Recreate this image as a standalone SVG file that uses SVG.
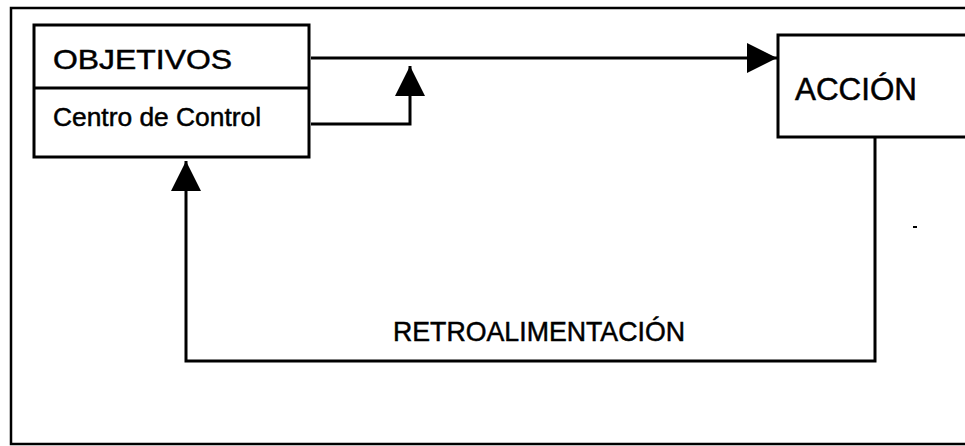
<svg xmlns="http://www.w3.org/2000/svg" width="965" height="446" viewBox="0 0 965 446">
<style>
.box{fill:#fff;stroke:#000;stroke-width:3}
.ln{fill:none;stroke:#000;stroke-width:3}
.t{font-family:"Liberation Sans",Arial,sans-serif;fill:#000;stroke:#000;stroke-width:0.5}
</style>
<defs>
<marker id="ah" markerUnits="userSpaceOnUse" markerWidth="30" markerHeight="30" viewBox="0 0 28 28" refX="28" refY="14" orient="auto">
<polygon points="0,0 28,14 0,28" fill="#000"/>
</marker>
</defs>
<rect width="965" height="446" fill="#fff"/>
<g id="frame">
<path d="M965,8 H11 V444 H965" fill="none" stroke="#000" stroke-width="2.5"/>
</g>
<g id="connectors">
<line class="ln" x1="311" y1="58" x2="777" y2="58" marker-end="url(#ah)"/>
<path class="ln" d="M311,124 H410 V66" marker-end="url(#ah)"/>
<path class="ln" d="M875,138 V361 H186 V161" marker-end="url(#ah)"/>
<text class="t" x="393" y="341" font-size="28" textLength="292" lengthAdjust="spacingAndGlyphs">RETROALIMENTACIÓN</text>
</g>
<g id="objetivos">
<rect class="box" x="34" y="25" width="275" height="132"/>
<line class="ln" x1="34" y1="88" x2="309" y2="88"/>
<text class="t" x="53" y="69" font-size="28" textLength="179" lengthAdjust="spacingAndGlyphs">OBJETIVOS</text>
<text class="t" x="53" y="126" font-size="26" textLength="208" lengthAdjust="spacingAndGlyphs">Centro de Control</text>
</g>
<g id="accion">
<rect class="box" x="778" y="35" width="200" height="102"/>
<text class="t" x="795" y="100" font-size="31" textLength="122" lengthAdjust="spacingAndGlyphs">ACCIÓN</text>
</g>
<line x1="913" y1="227" x2="917" y2="227" stroke="#000" stroke-width="2"/>
</svg>
